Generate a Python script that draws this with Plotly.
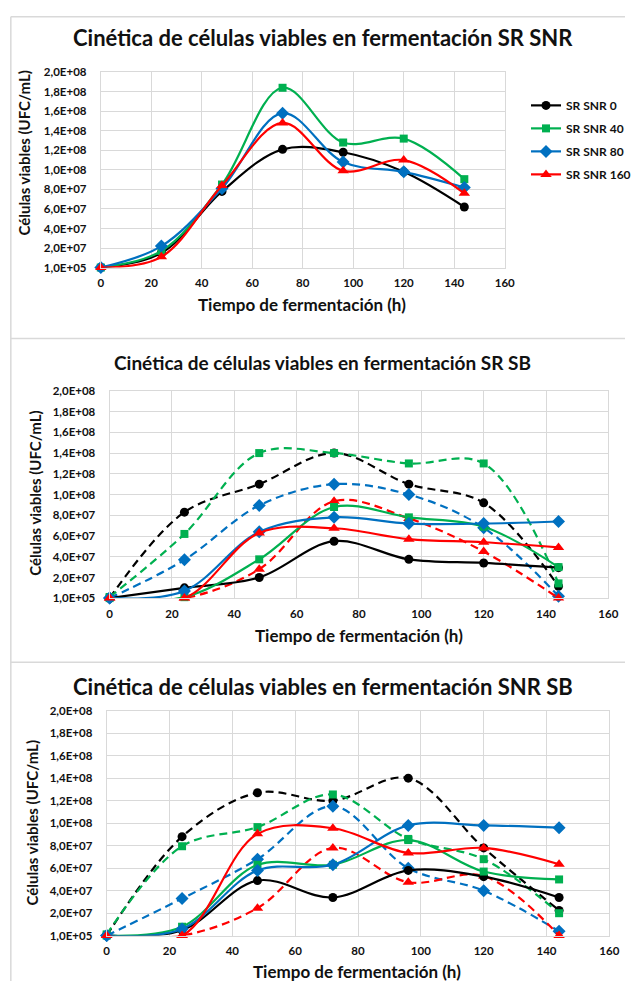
import plotly.graph_objects as go

# ---------------- data ----------------
time_h = [0, 24, 48, 72, 96, 120, 144]
x_ticks = [0, 20, 40, 60, 80, 100, 120, 140, 160]
y_tickvals = [1e5, 2e7, 4e7, 6e7, 8e7, 1e8, 1.2e8, 1.4e8, 1.6e8, 1.8e8, 2e8]
y_ticktext = ["1,0E+05", "2,0E+07", "4,0E+07", "6,0E+07", "8,0E+07", "1,0E+08",
              "1,2E+08", "1,4E+08", "1,6E+08", "1,8E+08", "2,0E+08"]

# Panel 1: SR SNR
sr_snr_0 = [1e5, 1.5e7, 7.8e7, 1.21e8, 1.18e8, 9.8e7, 6.2e7]
sr_snr_40 = [1e5, 1.7e7, 8.5e7, 1.84e8, 1.28e8, 1.32e8, 9.05e7]
sr_snr_80 = [1e5, 2.2e7, 8.1e7, 1.58e8, 1.08e8, 9.8e7, 8.2e7]
sr_snr_160 = [1e5, 1.1e7, 8.4e7, 1.48e8, 9.9e7, 1.10e8, 7.6e7]

# Panel 2: SR SB (solid and dashed series)
sr_sb_0 = [1e5, 1.0e7, 2.0e7, 5.5e7, 3.75e7, 3.4e7, 2.95e7]
sr_sb_40 = [1e5, 1e6, 3.75e7, 8.8e7, 7.8e7, 6.9e7, 3.0e7]
sr_sb_80 = [1e5, 0.7e7, 6.4e7, 7.8e7, 7.2e7, 7.2e7, 7.4e7]
sr_sb_160 = [1e5, 1e5, 6.3e7, 6.75e7, 5.7e7, 5.4e7, 4.9e7]
sr_sb_0_d = [1e5, 8.3e7, 1.10e8, 1.40e8, 1.10e8, 9.2e7, 1.15e7]
sr_sb_40_d = [1.2e6, 6.2e7, 1.40e8, 1.40e8, 1.30e8, 1.30e8, 1.43e7]
sr_sb_80_d = [1e5, 3.7e7, 8.95e7, 1.10e8, 1.00e8, 6.8e7, 2e6]
sr_sb_160_d = [1e5, 1e5, 2.8e7, 9.35e7, 7.7e7, 4.5e7, 1e5]

# Panel 3: SNR SB (solid and dashed series)
snr_sb_0 = [1e5, 0.5e7, 4.9e7, 3.4e7, 5.8e7, 5.25e7, 3.4e7]
snr_sb_40 = [1e5, 0.8e7, 6.3e7, 6.3e7, 8.5e7, 5.7e7, 5.0e7]
snr_sb_80 = [1e5, 0.6e7, 5.8e7, 6.3e7, 9.8e7, 9.8e7, 9.6e7]
snr_sb_160 = [1e5, 1e5, 9.05e7, 9.55e7, 7.35e7, 7.8e7, 6.35e7]
snr_sb_0_d = [1e5, 8.8e7, 1.27e8, 1.20e8, 1.40e8, 7.8e7, 2.25e7]
snr_sb_40_d = [1.2e6, 7.95e7, 9.65e7, 1.255e8, 8.6e7, 6.8e7, 2.0e7]
snr_sb_80_d = [1e5, 3.3e7, 6.8e7, 1.15e8, 6.0e7, 4.0e7, 0.4e7]
snr_sb_160_d = [1e5, 1e5, 2.45e7, 7.8e7, 4.75e7, 5.3e7, 1e5]

titles = ["Cinética de células viables en fermentación SR SNR",
          "Cinética de células viables en fermentación SR SB",
          "Cinética de células viables en fermentación SNR SB"]
x_title = "Tiempo de fermentación (h)"
y_title = "Células viables (UFC/mL)"

# ---------------- styles ----------------
W, H = 636, 987
FONT = "Lato"
TXT = "#111111"
GRID = "#D9D9D9"
colors = {"0": "#000000", "40": "#00B050", "80": "#0070C0", "160": "#FF0000"}
symbols = {"0": "circle", "40": "square", "80": "diamond", "160": "triangle-up"}
msize = {"0": 9, "40": 8, "80": 10, "160": 10}


def px_x(p):
    return p / W


def px_y(p):
    return 1 - p / H


fig = go.Figure()


def add_series(xa, ya, name, key, yvals, dashed=False, legend=False):
    fig.add_trace(go.Scatter(
        x=time_h, y=yvals, name=name, xaxis=xa, yaxis=ya,
        mode="lines+markers",
        line=dict(color=colors[key], width=2.2, shape="spline", smoothing=1.0,
                  dash="8px,5px" if dashed else "solid"),
        marker=dict(symbol=symbols[key], size=msize[key], color=colors[key]),
        cliponaxis=False, showlegend=legend, legendgroup=name,
    ))


# Panel 1
add_series("x", "y", "SR SNR 0", "0", sr_snr_0, legend=True)
add_series("x", "y", "SR SNR 40", "40", sr_snr_40, legend=True)
add_series("x", "y", "SR SNR 80", "80", sr_snr_80, legend=True)
add_series("x", "y", "SR SNR 160", "160", sr_snr_160, legend=True)

# Panel 2
for key, das in [("0", sr_sb_0_d), ("40", sr_sb_40_d), ("80", sr_sb_80_d), ("160", sr_sb_160_d)]:
    add_series("x2", "y2", "SR SB " + key + " (b)", key, das, dashed=True)
for key, sol in [("0", sr_sb_0), ("40", sr_sb_40), ("80", sr_sb_80), ("160", sr_sb_160)]:
    add_series("x2", "y2", "SR SB " + key, key, sol)

# Panel 3
for key, das in [("0", snr_sb_0_d), ("40", snr_sb_40_d), ("80", snr_sb_80_d), ("160", snr_sb_160_d)]:
    add_series("x3", "y3", "SNR SB " + key + " (b)", key, das, dashed=True)
for key, sol in [("0", snr_sb_0), ("40", snr_sb_40), ("80", snr_sb_80), ("160", snr_sb_160)]:
    add_series("x3", "y3", "SNR SB " + key, key, sol)

# panel geometry in pixels: (x0, x1, ytop, ybottom)
panels = [(100, 513, 66, 264), (109, 619, 389, 599), (106, 620, 713, 941)]
tickfont = dict(family=FONT, size=11.5, color=TXT, weight="bold")

layout = dict(
    width=W, height=H, margin=dict(l=0, r=0, t=0, b=0),
    paper_bgcolor="white", plot_bgcolor="white",
    font=dict(family=FONT, color=TXT),
    showlegend=True,
    legend=dict(x=px_x(535), y=px_y(85), xanchor="left", yanchor="top",
                font=dict(family=FONT, size=12, color=TXT, weight="bold"),
                bgcolor="rgba(0,0,0,0)", tracegroupgap=4, itemwidth=30),
)

for i, (x0, x1, yt, yb) in enumerate(panels):
    sfx = "" if i == 0 else str(i + 1)
    layout["xaxis" + sfx] = dict(
        domain=[px_x(x0), px_x(x1)], anchor="y" + sfx, range=[0, 160],
        tickvals=x_ticks, ticktext=[str(v) for v in x_ticks],
        showgrid=True, gridcolor=GRID, gridwidth=1, zeroline=False,
        showline=True, linecolor=GRID, linewidth=1, mirror=True,
        ticks="", tickfont=tickfont, ticklabelstandoff=5,
    )
    layout["yaxis" + sfx] = dict(
        domain=[px_y(yb), px_y(yt)], anchor="x" + sfx, range=[1e5, 2e8],
        tickvals=y_tickvals, ticktext=y_ticktext,
        showgrid=True, gridcolor=GRID, gridwidth=1, zeroline=False,
        showline=True, linecolor=GRID, linewidth=1, mirror=True,
        ticks="", tickfont=tickfont, ticklabelstandoff=11,
    )

fig.update_layout(**layout)

# titles and axis titles as annotations
title_pos = [(327, 31, 22), (327, 360, 19), (327, 689, 22)]
xt_pos = [(306, 301), (364, 637), (362, 977)]
yt_pos = [(22, 148), (32, 493), (30, 827)]
anns = []
for i in range(3):
    tx, ty, ts = title_pos[i]
    anns.append(dict(text=titles[i], x=px_x(tx), y=px_y(ty), xref="paper", yref="paper",
                     showarrow=False, xanchor="center", yanchor="middle",
                     font=dict(family=FONT, size=ts, color=TXT, weight="bold")))
    ax, ay = xt_pos[i]
    anns.append(dict(text=x_title, x=px_x(ax), y=px_y(ay), xref="paper", yref="paper",
                     showarrow=False, xanchor="center", yanchor="middle",
                     font=dict(family=FONT, size=17, color=TXT, weight="bold")))
    bx, by = yt_pos[i]
    anns.append(dict(text=y_title, x=px_x(bx), y=px_y(by), xref="paper", yref="paper",
                     showarrow=False, xanchor="center", yanchor="middle", textangle=-90,
                     font=dict(family=FONT, size=15, color=TXT, weight="bold")))
fig.update_layout(annotations=anns)

# chart-area frames
frame = dict(color=GRID, width=1.5)
shapes = [
    dict(type="line", xref="paper", yref="paper", x0=px_x(8), x1=px_x(8), y0=px_y(10), y1=0, line=frame),
    dict(type="line", xref="paper", yref="paper", x0=px_x(8), x1=1, y0=px_y(10), y1=px_y(10), line=frame),
    dict(type="line", xref="paper", yref="paper", x0=px_x(8), x1=1, y0=px_y(336), y1=px_y(336), line=frame),
    dict(type="line", xref="paper", yref="paper", x0=px_x(8), x1=1, y0=px_y(664), y1=px_y(664), line=frame),
]
fig.update_layout(shapes=shapes)

fig.write_html("out.html")
